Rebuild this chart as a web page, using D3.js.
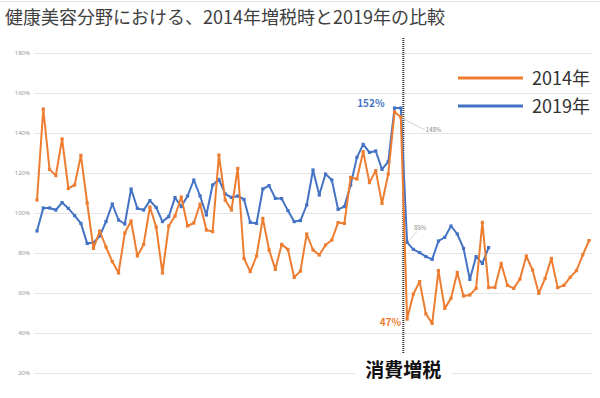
<!DOCTYPE html>
<html>
<head>
<meta charset="utf-8">
<script src="https://cdn.jsdelivr.net/npm/d3@7"></script>
<style>
  body { margin: 0; background: #fff; }
  text { font-family: "Noto Sans CJK JP", "Noto Sans", sans-serif; }
</style>
</head>
<body>
<div id="chart"></div>
<script>
// Data: index relative to same-period previous year (%), weekly
const title = "健康美容分野における、2014年増税時と2019年の比較";
const seriesNames = ["2014年", "2019年"];
const yTicks = [20, 40, 60, 80, 100, 120, 140, 160, 180];

const values2014 = [
  106.5, 152, 121.8, 118.7, 137, 112.3, 114, 128.8, 105, 82.3,
  91, 83, 75.7, 70, 90, 96, 78.5, 84.3, 103, 93,
  70, 93.5, 98.5, 108, 93.5, 95, 104.5, 91.5, 90.7, 129,
  106.5, 101.5, 122.3, 77.3, 70.7, 78.5, 97.3, 81.5, 71.8, 84.3,
  81.8, 67.8, 71, 89.5, 81.5, 79, 84, 86.5, 95.2, 94.8,
  117.8, 117, 130.7, 115.2, 121.2, 104.8, 119.5, 150.5, 148, 47,
  59.5, 65.7, 49.5, 44.8, 71.2, 52.3, 57.3, 70.3, 58.5, 59,
  62.3, 95.3, 62.7, 62.8, 74.8, 63.8, 62.3, 67, 78.5, 71.5,
  59.8, 67.3, 77.3, 62.7, 63.8, 67.8, 71.2, 79, 86.2
];

const values2019 = [
  91, 102.5, 102.5, 101.5, 105.2, 102.3, 98.7, 94.8, 84.8, 85.2,
  88.5, 95.7, 104.5, 96.5, 94.5, 112, 102.3, 101.5, 106.2, 102.8,
  95.7, 98.2, 107.7, 103.2, 108.5, 116.5, 108.5, 99, 114, 116.8,
  109.5, 107.8, 108.5, 106.8, 95.3, 94.8, 112, 113.7, 107.3, 107.2,
  101.2, 95.7, 96.2, 104, 121.5, 109, 119.5, 116.5, 101.8, 103.2,
  114, 127.8, 134.3, 130.3, 131, 121.8, 125.7, 152.5, 152.5, 85.3,
  81.8, 80.2, 78.2, 76.8, 86, 87.8, 93.5, 89.5, 82.3, 66.8,
  78.2, 74.8, 82.7
];

// Tax hike falls between week 58 and 59
const taxIndex = 58.4;
const taxLabel = "消費増税";

let width = 600;
let height = 398;

const orange = "#ED7D31";
const blue = "#4472C4";

let svg = d3.select('#chart')
    .append('svg')
    .attr('width', width)
    .attr('height', height)
    .style('background', '#fff');

// Scales
const xScale = d3.scaleLinear()
    .domain([0, values2014.length - 1])
    .range([37, 589]);

const yScale = d3.scaleLinear()
    .domain([20, 180])
    .range([373, 53]);

// Thin line at the very top
svg.append('line')
    .attr('x1', 0).attr('x2', width)
    .attr('y1', 1.5).attr('y2', 1.5)
    .attr('stroke', '#e4e4e4');

// Title
svg.append('text')
    .attr('x', 5)
    .attr('y', 24)
    .attr('font-size', 18)
    .attr('fill', '#404040')
    .text(title);

// Grid lines and tick labels
const yAxis = svg.append('g')
    .attr('transform', 'translate(34, 0)')
    .call(d3.axisLeft(yScale)
        .tickValues(yTicks)
        .tickSize(-(592 - 34))
        .tickPadding(4)
        .tickFormat(d => d + '%'));
yAxis.select('.domain').remove();
yAxis.selectAll('.tick line')
    .attr('stroke', '#e6e6e6')
    .attr('stroke-width', 1);
yAxis.selectAll('.tick text')
    .attr('font-size', 6)
    .attr('fill', '#999')
    .style('font-family', '"Noto Sans", sans-serif');

// Tax hike marker line
svg.append('line')
    .attr('x1', xScale(taxIndex)).attr('x2', xScale(taxIndex))
    .attr('y1', 38).attr('y2', 354)
    .attr('stroke', '#333')
    .attr('stroke-width', 2)
    .attr('stroke-dasharray', '1,1');

// Label with white background so the grid line is hidden behind it
svg.append('rect')
    .attr('x', xScale(taxIndex) - 48)
    .attr('y', 358)
    .attr('width', 96)
    .attr('height', 24)
    .attr('fill', '#fff');
svg.append('text')
    .attr('x', xScale(taxIndex))
    .attr('y', 377)
    .attr('text-anchor', 'middle')
    .attr('font-size', 19)
    .attr('font-weight', 'bold')
    .attr('fill', '#111')
    .text(taxLabel);

// Lines + square markers
const line = d3.line()
    .x((d, i) => xScale(i))
    .y(d => yScale(d));

function drawSeries(values, color) {
    svg.append('path')
        .datum(values)
        .attr('fill', 'none')
        .attr('stroke', color)
        .attr('stroke-width', 2)
        .attr('stroke-linejoin', 'round')
        .attr('d', line);
    svg.append('g')
        .selectAll('rect')
        .data(values)
        .enter()
        .append('rect')
        .attr('x', (d, i) => xScale(i) - 1.6)
        .attr('y', d => yScale(d) - 1.6)
        .attr('width', 3.2)
        .attr('height', 3.2)
        .attr('fill', color);
}
drawSeries(values2019, blue);
drawSeries(values2014, orange);

// Annotations
const i152 = 57, i148 = 58, iAfter = 59;
svg.append('text')
    .attr('x', xScale(i152) - 10)
    .attr('y', yScale(values2019[i152]) - 1)
    .attr('text-anchor', 'end')
    .attr('font-size', 10)
    .attr('font-weight', 'bold')
    .attr('fill', blue)
    .text(Math.round(values2019[i152] - 0.5) + '%');

svg.append('line')
    .attr('x1', xScale(i148) + 1).attr('y1', yScale(values2014[i148]) + 1)
    .attr('x2', xScale(i148) + 24).attr('y2', yScale(values2014[i148]) + 13)
    .attr('stroke', '#bbb').attr('stroke-width', 0.7);
svg.append('text')
    .attr('x', xScale(i148) + 25)
    .attr('y', yScale(values2014[i148]) + 15)
    .attr('font-size', 6)
    .attr('fill', '#888')
    .text(Math.round(values2014[i148]) + '%');

svg.append('line')
    .attr('x1', xScale(iAfter) + 1).attr('y1', yScale(values2019[iAfter]) - 1)
    .attr('x2', xScale(iAfter) + 10).attr('y2', yScale(values2019[iAfter]) - 11)
    .attr('stroke', '#bbb').attr('stroke-width', 0.7);
svg.append('text')
    .attr('x', xScale(iAfter) + 7)
    .attr('y', yScale(values2019[iAfter]) - 12)
    .attr('font-size', 6)
    .attr('fill', '#888')
    .text(Math.round(values2019[iAfter]) + '%');

svg.append('text')
    .attr('x', xScale(iAfter) - 6)
    .attr('y', yScale(values2014[iAfter]) + 7)
    .attr('text-anchor', 'end')
    .attr('font-size', 10)
    .attr('font-weight', 'bold')
    .attr('fill', orange)
    .text(Math.round(values2014[iAfter]) + '%');

// Legend
const legend = svg.append('g')
    .attr('transform', 'translate(458, 78)');
[orange, blue].forEach((color, i) => {
    legend.append('line')
        .attr('x1', 0).attr('x2', 65)
        .attr('y1', i * 28).attr('y2', i * 28)
        .attr('stroke', color)
        .attr('stroke-width', 3);
    legend.append('text')
        .attr('x', 74)
        .attr('y', i * 28 + 6.5)
        .attr('font-size', 18)
        .attr('fill', '#333')
        .text(seriesNames[i]);
});
</script>
</body>
</html>
